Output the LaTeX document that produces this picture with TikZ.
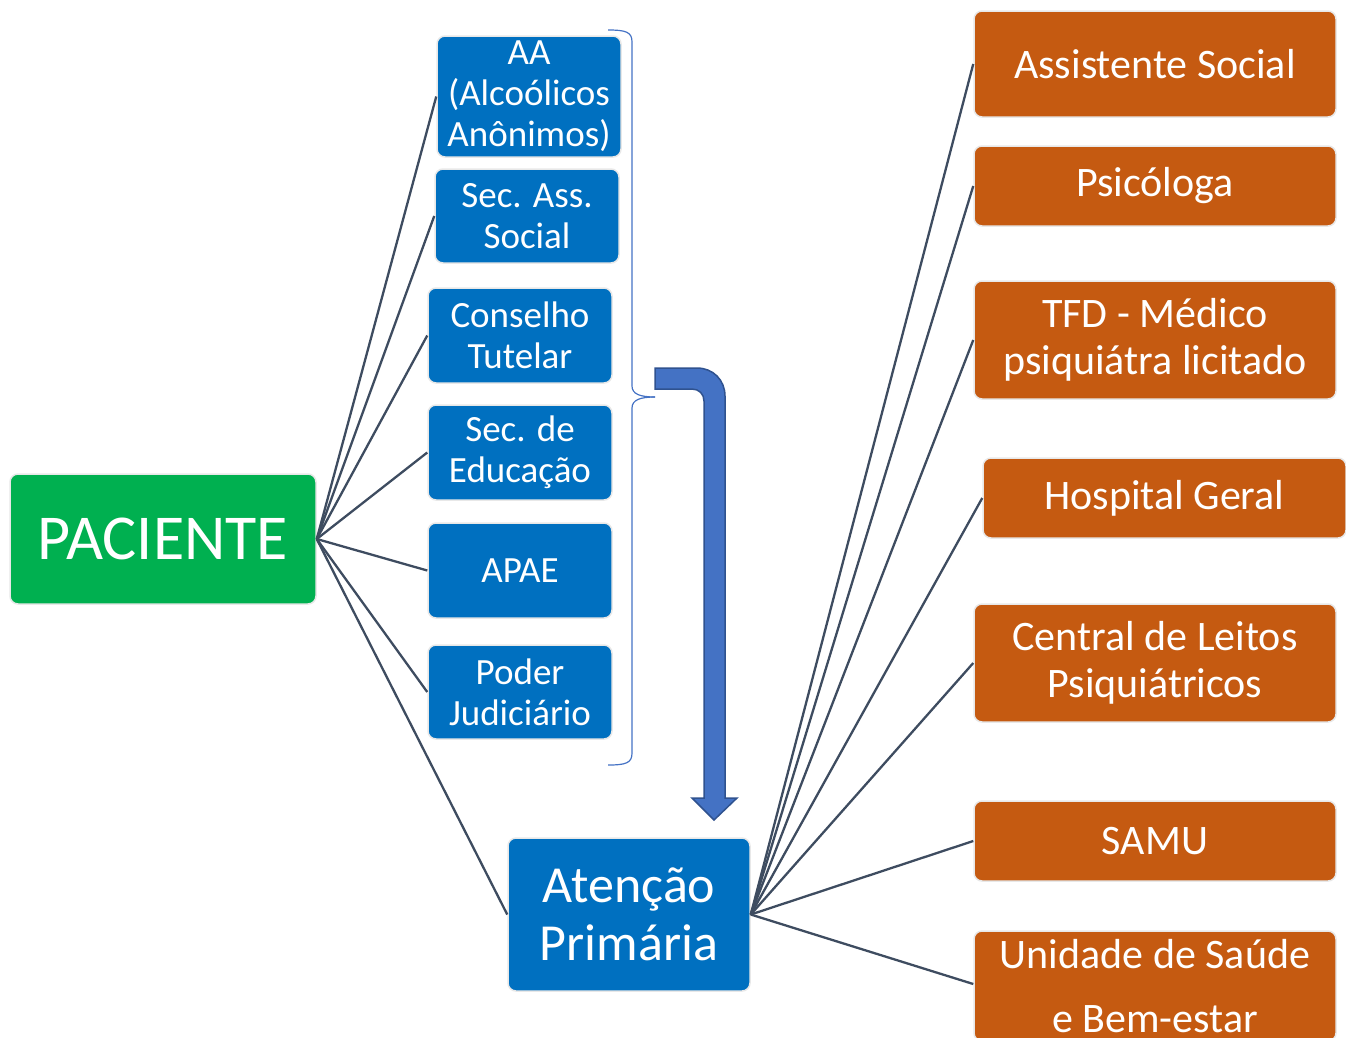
\documentclass[tikz,border=0pt]{standalone}
\usepackage{fontspec}
\setmainfont{Carlito}
\definecolor{pacgreen}{HTML}{00B050}
\definecolor{redeblue}{HTML}{0070C0}
\definecolor{saudeorange}{HTML}{C55A11}
\definecolor{linkgray}{HTML}{3E4C60}
\definecolor{setablue}{HTML}{4472C4}
\definecolor{setaborder}{HTML}{2F528F}

\begin{document}
\begin{tikzpicture}[x=1pt, y=-1pt,
	caixa/.style={rounded corners=8pt, draw=gray!18, line width=1.5pt, text=white, inner sep=0pt, align=center},
	rede/.style={caixa, fill=redeblue, minimum width=184pt, font=\fontsize{37}{41}\selectfont},
	saude/.style={caixa, fill=saudeorange, minimum width=362pt, font=\fontsize{42}{47}\selectfont},
	ligacao/.style={draw=linkgray, line width=2.3pt}]
	\useasboundingbox (0,0) rectangle (1346,1037);
	
	\node[caixa, fill=pacgreen, minimum width=306pt, minimum height=130pt, font=\fontsize{64}{72}\selectfont] (paciente) at (163,539) {PACIENTE};
	
	\node[rede, minimum height=121pt] (aa) at (529,96.5) {AA\\(Alcoólicos\\Anônimos)};
	\node[rede, minimum height=94pt] (secass) at (527,216) {Sec. Ass.\\Social};
	\node[rede, minimum height=95pt] (conselho) at (520,335.5) {Conselho\\Tutelar};
	\node[rede, minimum height=95pt] (educacao) at (520,452.5) {Sec. de\\Educação};
	\node[rede, minimum height=95pt] (apae) at (520,570.5) {APAE};
	\node[rede, minimum height=94pt] (poder) at (520,692) {Poder\\Judiciário};
	
	\node[caixa, fill=redeblue, minimum width=242pt, minimum height=153pt, font=\fontsize{52}{58}\selectfont] (atencao) at (629,914.5) {Atenção\\Primária};
	
	\node[saude, minimum height=106pt] (assistente) at (1155,64) {Assistente Social};
	\node[saude, minimum height=80pt] (psicologa) at (1155,186) {Psicóloga};
	\node[saude, minimum height=118pt] (tfd) at (1155,340) {TFD - Médico\\psiquiátra licitado};
	\node[saude, minimum width=363pt, minimum height=80pt] (hospital) at (1164.5,498) {Hospital Geral};
	\node[saude, minimum height=118pt] (leitos) at (1155,663) {Central de Leitos\\Psiquiátricos};
	\node[saude, minimum height=80pt] (samu) at (1155,841) {SAMU};
	\node[saude, minimum height=110pt, font=\fontsize{42}{64}\selectfont] (unidade) at (1155,986) {Unidade de Saúde\\e Bem-estar};
	
	\draw[ligacao] (paciente.east) -- (aa.west);
	\draw[ligacao] (paciente.east) -- (secass.west);
	\draw[ligacao] (paciente.east) -- (conselho.west);
	\draw[ligacao] (paciente.east) -- (educacao.west);
	\draw[ligacao] (paciente.east) -- (apae.west);
	\draw[ligacao] (paciente.east) -- (poder.west);
	\draw[ligacao] (paciente.east) -- (atencao.west);
	
	\draw[ligacao] (atencao.east) -- (assistente.west);
	\draw[ligacao] (atencao.east) -- (psicologa.west);
	\draw[ligacao] (atencao.east) -- (tfd.west);
	\draw[ligacao] (atencao.east) -- (hospital.west);
	\draw[ligacao] (atencao.east) -- (leitos.west);
	\draw[ligacao] (atencao.east) -- (samu.west);
	\draw[ligacao] (atencao.east) -- ([yshift=2pt]unidade.west);
	
	\draw[setablue, line width=1.2pt] (608,30) .. controls (626,30) and (632,32) .. (632,42) -- (632,386) .. controls (632,394) and (640,397) .. (655,397);
	\draw[setablue, line width=1.2pt] (608,765) .. controls (626,765) and (632,763) .. (632,753) -- (632,408) .. controls (632,400) and (640,397) .. (655,397);
	
	\filldraw[fill=setablue, draw=setaborder, line width=1.5pt] (655,368) -- (697,368) .. controls (713,368) and (725,380) .. (725,396) -- (725,798) -- (737,798) -- (714,820) -- (692,798) -- (704,798) -- (704,401) .. controls (704,394) and (699,389) .. (692,389) -- (655,389) -- cycle;
\end{tikzpicture}
\end{document}
